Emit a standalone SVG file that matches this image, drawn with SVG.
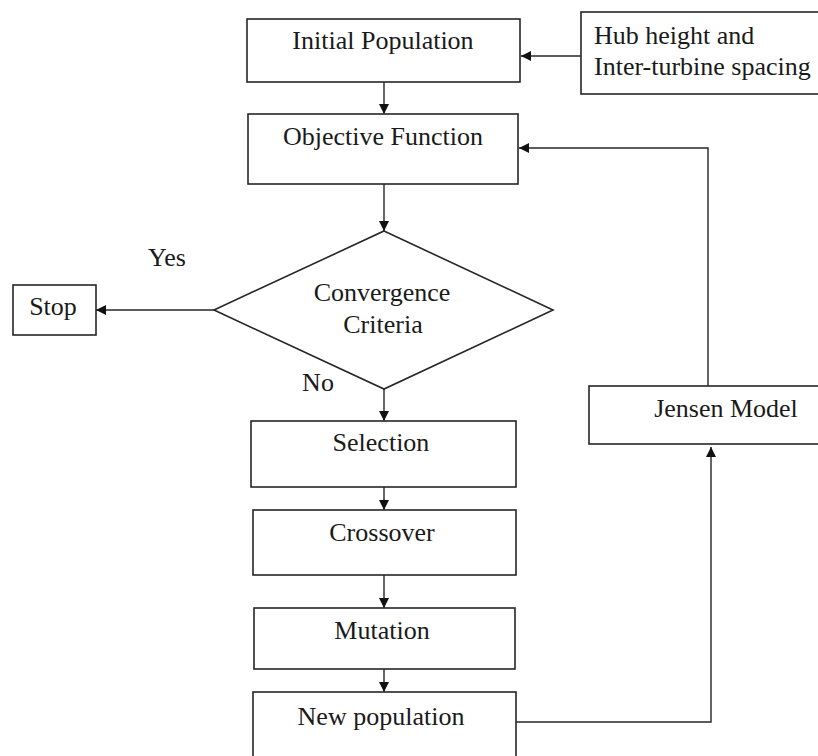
<svg xmlns="http://www.w3.org/2000/svg" width="818" height="756" viewBox="0 0 818 756">
<style>
.box{fill:#fff;stroke:#262626;stroke-width:1.6}
.t{font-family:"Liberation Serif","Times New Roman",serif;font-size:26px;fill:#1a1a1a}
.c{text-anchor:middle}
.ln{fill:none;stroke:#262626;stroke-width:1.4}
</style>
<defs>
<marker id="ah" viewBox="0 0 10 10" refX="10" refY="5" markerWidth="10" markerHeight="10" markerUnits="userSpaceOnUse" orient="auto">
<path d="M0,0 L10,5 L0,10 Z" fill="#111"/>
</marker>
</defs>
<rect width="818" height="756" fill="#fff"/>
<g id="connectors">
<path class="ln" d="M581,56 H521" marker-end="url(#ah)"/>
<path class="ln" d="M384,82 V114" marker-end="url(#ah)"/>
<path class="ln" d="M708,386 V148 H519" marker-end="url(#ah)"/>
<path class="ln" d="M384,184 V231" marker-end="url(#ah)"/>
<path class="ln" d="M214,310 H96" marker-end="url(#ah)"/>
<path class="ln" d="M384,389 V421" marker-end="url(#ah)"/>
<path class="ln" d="M384,487 V510" marker-end="url(#ah)"/>
<path class="ln" d="M384,575 V608" marker-end="url(#ah)"/>
<path class="ln" d="M384,669 V692" marker-end="url(#ah)"/>
<path class="ln" d="M516,722 H711 V447" marker-end="url(#ah)"/>
</g>
<g id="initial">
<rect class="box" x="247" y="19" width="273" height="63"/>
<text class="t c" x="383" y="49">Initial Population</text>
</g>
<g id="hub">
<rect class="box" x="581" y="12" width="260" height="82"/>
<text class="t" x="594" y="44">Hub height and</text>
<text class="t" x="594" y="75">Inter-turbine spacing</text>
</g>
<g id="objective">
<rect class="box" x="248" y="114" width="270" height="70"/>
<text class="t c" x="383" y="145">Objective Function</text>
</g>
<g id="convergence">
<polygon class="box" points="384,231 553,310 384,389 214,310"/>
<text class="t c" x="382" y="301">Convergence</text>
<text class="t c" x="383" y="333">Criteria</text>
</g>
<g id="labels">
<text class="t c" x="167" y="266">Yes</text>
<text class="t c" x="318" y="391">No</text>
</g>
<g id="stop">
<rect class="box" x="13" y="285" width="83" height="50"/>
<text class="t c" x="53" y="315">Stop</text>
</g>
<g id="selection">
<rect class="box" x="251" y="421" width="265" height="66"/>
<text class="t c" x="381" y="451">Selection</text>
</g>
<g id="crossover">
<rect class="box" x="253" y="510" width="263" height="65"/>
<text class="t c" x="382" y="541">Crossover</text>
</g>
<g id="mutation">
<rect class="box" x="254" y="608" width="261" height="61"/>
<text class="t c" x="382" y="639">Mutation</text>
</g>
<g id="newpop">
<rect class="box" x="253" y="692" width="263" height="90"/>
<text class="t c" x="381" y="725">New population</text>
</g>
<g id="jensen">
<rect class="box" x="589" y="386" width="260" height="58"/>
<text class="t c" x="726" y="417">Jensen Model</text>
</g>
</svg>
